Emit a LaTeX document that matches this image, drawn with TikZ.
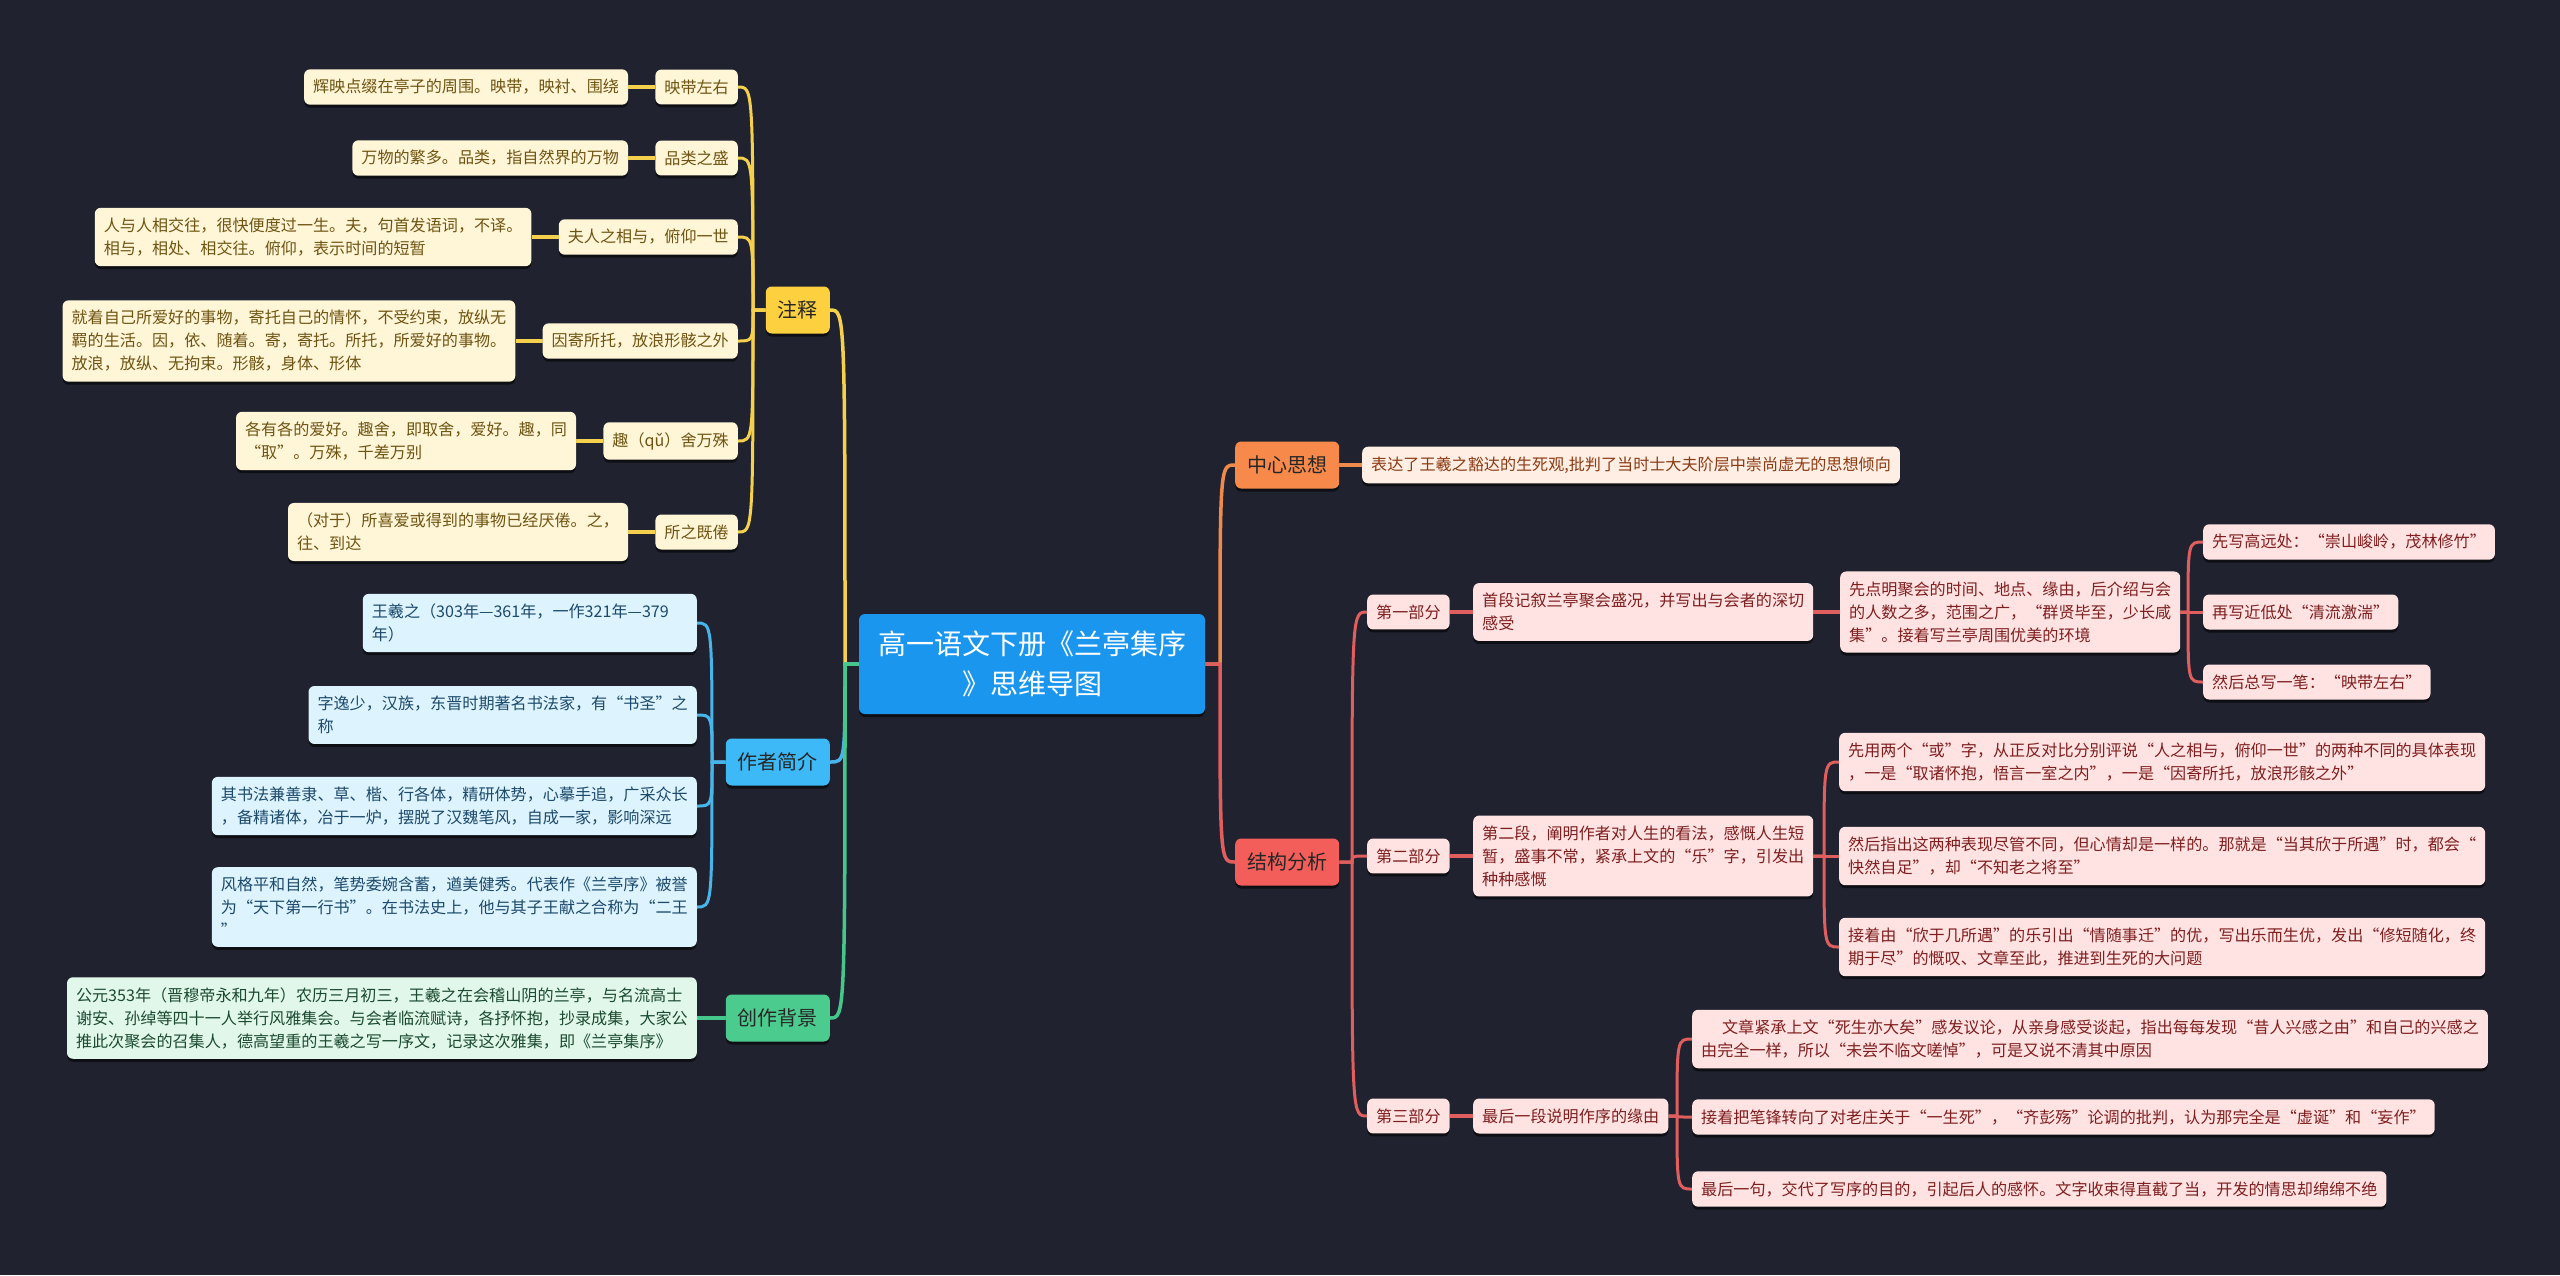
\documentclass[tikz,border=0pt]{standalone}
\usepackage{fontspec}
\setmainfont{Noto Sans CJK SC}
\usetikzlibrary{calc,shadows}
\pgfdeclarelayer{back}
\pgfdeclarelayer{lines}
\pgfsetlayers{back,lines,main}
\definecolor{bgc}{HTML}{20232F}
\definecolor{cen}{HTML}{1A96EE}
\definecolor{yl}{HTML}{F4D04C}
\definecolor{ynode}{HTML}{FCD03F}
\definecolor{yfill}{HTML}{FFF5D7}
\definecolor{ytext}{HTML}{6E5412}
\definecolor{bl}{HTML}{49B4EA}
\definecolor{bnode}{HTML}{3CB9F6}
\definecolor{bfill}{HTML}{DDF3FD}
\definecolor{btext}{HTML}{1C4A6C}
\definecolor{gl}{HTML}{45C78B}
\definecolor{gnode}{HTML}{4BCC8E}
\definecolor{gfill}{HTML}{E1F7EA}
\definecolor{gtext}{HTML}{1B4A30}
\definecolor{ol}{HTML}{EE8A4C}
\definecolor{onode}{HTML}{F78A4B}
\definecolor{ofill}{HTML}{FFEEE4}
\definecolor{otext}{HTML}{8A3A12}
\definecolor{rl}{HTML}{E05E5E}
\definecolor{rnode}{HTML}{F35E5B}
\definecolor{rfill}{HTML}{FFE3E3}
\definecolor{rtext}{HTML}{7E1E1E}
\newcommand{\mmL}[4]{\draw[#1,line width=#4] (#2.west) -- ($(#3.east |- #2.west)+(15,0)$) .. controls ($(#3.east)+(15,0)$) .. (#3.east);}
\newcommand{\mmR}[4]{\draw[#1,line width=#4] (#2.east) -- ($(#3.west |- #2.east)+(-15,0)$) .. controls ($(#3.west)+(-15,0)$) .. (#3.west);}
\tikzset{
  base/.style={rounded corners=6pt, drop shadow={shadow xshift=0pt, shadow yshift=-3pt, opacity=0.55, fill=black}},
  leaf/.style={base, inner xsep=9pt, inner ysep=10pt, align=left, font=\fontsize{16.1}{23}\selectfont},
  lvone/.style={base, inner xsep=12pt, minimum height=47pt, font=\fontsize{20}{26}\selectfont},
  yleaf/.style={leaf, fill=yfill, text=ytext},
  bleaf/.style={leaf, fill=bfill, text=btext},
  gleaf/.style={leaf, fill=gfill, text=gtext},
  oleaf/.style={leaf, fill=ofill, text=otext},
  rleaf/.style={leaf, fill=rfill, text=rtext},
  ynd/.style={lvone, fill=ynode, text=black!85},
  bnd/.style={lvone, fill=bnode, text=black!85},
  gnd/.style={lvone, fill=gnode, text=black!85},
  ond/.style={lvone, fill=onode, text=black!85},
  rnd/.style={lvone, fill=rnode, text=black!85},
}
\begin{document}
\begin{tikzpicture}[x=1pt,y=-1pt]
\begin{pgfonlayer}{back}
\fill[bgc] (0,0) rectangle (2560,1275);
\end{pgfonlayer}
\useasboundingbox (0,0) rectangle (2560,1275);

% central
\node[base, fill=cen, text=white, align=center, minimum width=346pt, minimum height=100pt, font=\fontsize{28}{40}\selectfont] (c) at (1032,664) {高一语文下册《兰亭集序\\》思维导图};

% ---- 注释 ----
\node[ynd, anchor=east] (zs) at (830,310) {注释};
\node[yleaf, anchor=east] (y1) at (738,87) {映带左右};
\node[yleaf, anchor=east] (y2) at (738,158) {品类之盛};
\node[yleaf, anchor=east] (y3) at (738,237) {夫人之相与，俯仰一世};
\node[yleaf, anchor=east] (y4) at (738,341) {因寄所托，放浪形骸之外};
\node[yleaf, anchor=east] (y5) at (738,441) {趣（qǔ）舍万殊};
\node[yleaf, anchor=east] (y6) at (738,532) {所之既倦};
\node[yleaf, anchor=east] (y1a) at ([xshift=-27pt]y1.west) {辉映点缀在亭子的周围。映带，映衬、围绕};
\node[yleaf, anchor=east] (y2a) at ([xshift=-27pt]y2.west) {万物的繁多。品类，指自然界的万物};
\node[yleaf, anchor=east] (y3a) at ([xshift=-27pt]y3.west) {人与人相交往，很快便度过一生。夫，句首发语词，不译。\\相与，相处、相交往。俯仰，表示时间的短暂};
\node[yleaf, anchor=east] (y4a) at ([xshift=-27pt]y4.west) {就着自己所爱好的事物，寄托自己的情怀，不受约束，放纵无\\羁的生活。因，依、随着。寄，寄托。所托，所爱好的事物。\\放浪，放纵、无拘束。形骸，身体、形体};
\node[yleaf, anchor=east] (y5a) at ([xshift=-27pt]y5.west) {各有各的爱好。趣舍，即取舍，爱好。趣，同\\“取”。万殊，千差万别};
\node[yleaf, anchor=east] (y6a) at ([xshift=-27pt]y6.west) {（对于）所喜爱或得到的事物已经厌倦。之，\\往、到达};

% ---- 作者简介 ----
\node[bnd, anchor=east] (zz) at (830,762) {作者简介};
\node[bleaf, anchor=east, text width=316pt] (b1) at (697,623) {王羲之（303年—361年，一作321年—379\\年）};
\node[bleaf, anchor=east] (b2) at (697,715) {字逸少，汉族，东晋时期著名书法家，有“书圣”之\\称};
\node[bleaf, anchor=east] (b3) at (697,806) {其书法兼善隶、草、楷、行各体，精研体势，心摹手追，广采众长\\，备精诸体，冶于一炉，摆脱了汉魏笔风，自成一家，影响深远};
\node[bleaf, anchor=east] (b4) at (697,907) {风格平和自然，笔势委婉含蓄，遒美健秀。代表作《兰亭序》被誉\\为“天下第一行书”。在书法史上，他与其子王献之合称为“二王\\”};

% ---- 创作背景 ----
\node[gnd, anchor=east] (cz) at (830,1018) {创作背景};
\node[gleaf, anchor=east] (g1) at (697,1018) {公元353年（晋穆帝永和九年）农历三月初三，王羲之在会稽山阴的兰亭，与名流高士\\谢安、孙绰等四十一人举行风雅集会。与会者临流赋诗，各抒怀抱，抄录成集，大家公\\推此次聚会的召集人，德高望重的王羲之写一序文，记录这次雅集，即《兰亭集序》};

% ---- 中心思想 ----
\node[ond, anchor=west] (zx) at (1235,465) {中心思想};
\node[oleaf, anchor=west] (o1) at (1362,465) {表达了王羲之豁达的生死观,批判了当时士大夫阶层中崇尚虚无的思想倾向};

% ---- 结构分析 ----
\node[rnd, anchor=west] (jg) at (1235,862) {结构分析};
\node[rleaf, anchor=west] (p1) at (1367,612) {第一部分};
\node[rleaf, anchor=west] (p2) at (1367,856) {第二部分};
\node[rleaf, anchor=west] (p3) at (1367,1116) {第三部分};
\node[rleaf, anchor=west] (p1a) at (1473,612) {首段记叙兰亭聚会盛况，并写出与会者的深切\\感受};
\node[rleaf, anchor=west] (p1b) at (1840,612) {先点明聚会的时间、地点、缘由，后介绍与会\\的人数之多，范围之广，“群贤毕至，少长咸\\集”。接着写兰亭周围优美的环境};
\node[rleaf, anchor=west] (p1c) at (2203,542) {先写高远处：“崇山峻岭，茂林修竹”};
\node[rleaf, anchor=west] (p1d) at (2203,612) {再写近低处“清流激湍”};
\node[rleaf, anchor=west] (p1e) at (2203,682) {然后总写一笔：“映带左右”};
\node[rleaf, anchor=west] (p2a) at (1473,856) {第二段，阐明作者对人生的看法，感慨人生短\\暂，盛事不常，紧承上文的“乐”字，引发出\\种种感慨};
\node[rleaf, anchor=west] (p2b) at (1839,762) {先用两个“或”字，从正反对比分别评说“人之相与，俯仰一世”的两种不同的具体表现\\，一是“取诸怀抱，悟言一室之内”，一是“因寄所托，放浪形骸之外”};
\node[rleaf, anchor=west] (p2c) at (1839,856) {然后指出这两种表现尽管不同，但心情却是一样的。那就是“当其欣于所遇”时，都会“\\快然自足”，却“不知老之将至”};
\node[rleaf, anchor=west] (p2d) at (1839,947) {接着由“欣于几所遇”的乐引出“情随事迁”的优，写出乐而生优，发出“修短随化，终\\期于尽”的慨叹、文章至此，推进到生死的大问题};
\node[rleaf, anchor=west] (p3a) at (1473,1116) {最后一段说明作序的缘由};
\node[rleaf, anchor=west] (p3b) at (1692,1039) {\hspace*{1.3em}文章紧承上文“死生亦大矣”感发议论，从亲身感受谈起，指出每每发现“昔人兴感之由”和自己的兴感之\\由完全一样，所以“未尝不临文嗟悼”，可是又说不清其中原因};
\node[rleaf, anchor=west] (p3c) at (1692,1117) {接着把笔锋转向了对老庄关于“一生死”，“齐彭殇”论调的批判，认为那完全是“虚诞”和“妄作”};
\node[rleaf, anchor=west] (p3d) at (1692,1189) {最后一句，交代了写序的目的，引起后人的感怀。文字收束得直截了当，开发的情思却绵绵不绝};

\begin{pgfonlayer}{lines}
% central to first level
\mmL{yl}{c}{zs}{3.5pt}
\mmL{bl}{c}{zz}{3.5pt}
\mmL{gl}{c}{cz}{3.5pt}
\mmR{ol}{c}{zx}{3.5pt}
\mmR{rl}{c}{jg}{3.5pt}
% yellow
\foreach \k in {y1,y2,y3,y4,y5,y6}{\mmL{yl}{zs}{\k}{3pt}}
\foreach \k in {y1,y2,y3,y4,y5,y6}{\draw[yl,line width=4pt] (\k.west) -- (\k a.east);}
% blue
\foreach \k in {b1,b2,b3,b4}{\mmL{bl}{zz}{\k}{3pt}}
% green
\draw[gl,line width=4pt] (cz.west) -- (g1.east);
% orange
\draw[ol,line width=4pt] (zx.east) -- (o1.west);
% red
\foreach \k in {p1,p2,p3}{\mmR{rl}{jg}{\k}{3pt}}
\draw[rl,line width=4pt] (p1.east) -- (p1a.west);
\draw[rl,line width=4pt] (p1a.east) -- (p1b.west);
\foreach \k in {p1c,p1d,p1e}{\mmR{rl}{p1b}{\k}{3pt}}
\draw[rl,line width=4pt] (p2.east) -- (p2a.west);
\foreach \k in {p2b,p2c,p2d}{\mmR{rl}{p2a}{\k}{3pt}}
\draw[rl,line width=4pt] (p3.east) -- (p3a.west);
\foreach \k in {p3b,p3c,p3d}{\mmR{rl}{p3a}{\k}{3pt}}
\end{pgfonlayer}
\end{tikzpicture}
\end{document}
